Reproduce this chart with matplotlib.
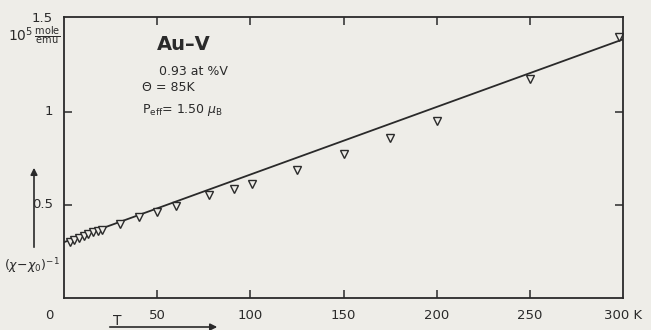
import numpy as np
import matplotlib
matplotlib.use("Agg")
from matplotlib import pyplot as plt

# measured points, Au-V 0.93 at% V
T = [3, 5.5, 8, 10.5, 13, 15.5, 18, 20.5, 30, 40, 50, 60, 78, 91, 101, 125, 150, 175, 200, 250, 298]
invchi = [0.302, 0.312, 0.322, 0.332, 0.343, 0.352, 0.362, 0.368, 0.395, 0.435, 0.462, 0.494,
          0.552, 0.585, 0.612, 0.688, 0.772, 0.86, 0.952, 1.178, 1.405]
# Curie-Weiss fit line
fitT = [0, 300]
fity = [0.30, 1.39]

xticks = [50, 100, 150, 200, 250]
yticks = [0.5, 1.0]

bg = "#eeede8"
ink = "#2a2a2a"
plt.rcParams['font.family'] = ['DejaVu Sans']

fig = plt.figure(figsize=(6.51, 3.30), dpi=100, facecolor=bg)
ax = fig.add_axes([64/651, 32/330, 559/651, 281/330], facecolor=bg)

ax.plot(fitT, fity, color=ink, lw=1.3)
ax.plot(T, invchi, linestyle="none", marker="v", ms=6, mfc=bg, mec=ink, mew=1.0)

ax.set_xlim(0, 300)
ax.set_ylim(0, 1.51)
for s in ax.spines.values():
    s.set_color(ink)
    s.set_linewidth(1.3)
ax.set_xticks(xticks)
ax.set_yticks(yticks)
ax.tick_params(direction="in", length=6, width=1.1, color=ink,
               top=True, right=True, labelbottom=False, labelleft=False)

# tick labels placed like the original figure
for t, lab in zip([0, 50, 100, 150, 200, 250], ["0", "50", "100", "150", "200", "250"]):
    xx = -8 if t == 0 else t
    ax.text(xx, -0.06, lab, ha="center", va="top", fontsize=9.5, color=ink)
ax.text(300, -0.06, "300 K", ha="center", va="top", fontsize=9.5, color=ink)
for v, lab in [(0.5, "0.5"), (1.0, "1"), (1.5, "1.5")]:
    ax.text(-6, v, lab, ha="right", va="center", fontsize=9.5, color=ink)

fig.text(61/651, 294/330, r"$10^5\,\frac{\mathrm{mole}}{\mathrm{emu}}$", ha="right", va="center",
         fontsize=10, color=ink)
fig.text(60/651, 64/330, r"$(\chi\!-\!\chi_0)^{-1}$", ha="right", va="center", fontsize=9, color=ink)
ax.annotate("", xy=(34/651, 165/330), xytext=(34/651, 80/330), xycoords="figure fraction",
            arrowprops=dict(arrowstyle="-|>", color=ink, lw=1.2))
fig.text(117/651, 9/330, "T", ha="center", va="center", fontsize=10, color=ink)
ax.annotate("", xy=(220/651, 3/330), xytext=(107/651, 3/330), xycoords="figure fraction",
            arrowprops=dict(arrowstyle="-|>", color=ink, lw=1.2))

ax.text(50, 1.36, "Au\u2013V", fontsize=14, fontweight="bold", color=ink, va="center")
ax.text(51, 1.215, "0.93 at %V", fontsize=9, color=ink, va="center")
ax.text(42, 1.13, "\u0398 = 85K", fontsize=9, color=ink, va="center")
ax.text(42, 1.01, r"P$_{\mathrm{eff}}$= 1.50 $\mu_{\mathrm{B}}$", fontsize=9, color=ink, va="center")

fig.savefig("out.png", dpi=100, facecolor=bg)
